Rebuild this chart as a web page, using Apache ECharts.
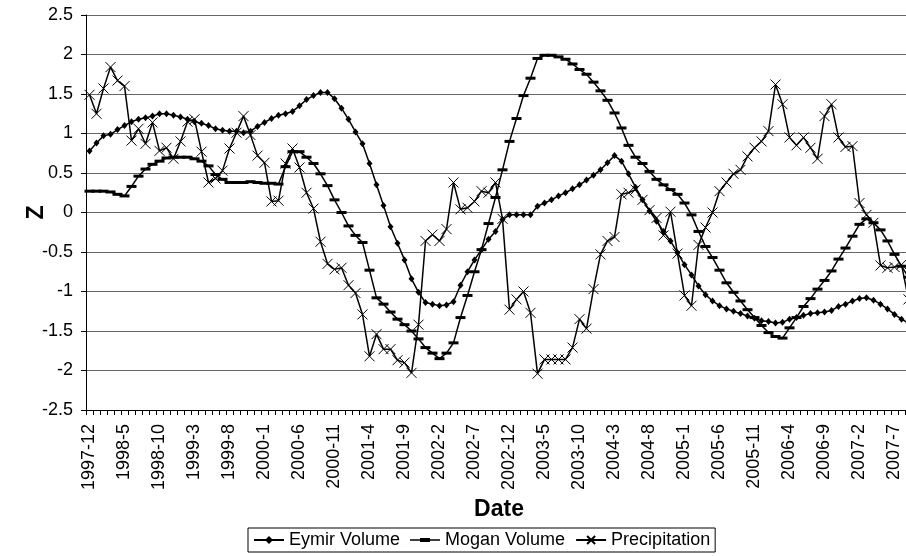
<!DOCTYPE html>
<html>
<head>
<meta charset="utf-8">
<script src="https://cdn.jsdelivr.net/npm/echarts@6/dist/echarts.min.js"></script>
<style>
html,body{margin:0;padding:0;background:#fff;overflow:hidden;width:906px;height:556px;}
#chart{width:912px;height:556px;}
</style>
</head>
<body>
<div id="chart"></div>
<script>
// Categories: monthly dates from 1997-12 to 2007-9
var startYear = 1997, startMonth = 12, monthCount = 118;
var dates = [];
for (var k = 0; k < monthCount; k++) {
  var m = startMonth - 1 + k;
  dates.push((startYear + Math.floor(m / 12)) + '-' + (m % 12 + 1));
}

var yTicks = [-2.5, -2, -1.5, -1, -0.5, 0, 0.5, 1, 1.5, 2, 2.5];

var eymirVolume = [
  0.78, 0.88, 0.97, 0.99, 1.05, 1.10, 1.15, 1.18, 1.20, 1.22,
  1.25, 1.25, 1.23, 1.21, 1.18, 1.15, 1.13, 1.10, 1.06, 1.04,
  1.03, 1.03, 1.01, 1.03, 1.09, 1.14, 1.19, 1.23, 1.25, 1.28,
  1.35, 1.43, 1.48, 1.52, 1.52, 1.44, 1.32, 1.18, 1.02, 0.87,
  0.62, 0.35, 0.09, -0.18, -0.39, -0.60, -0.84, -1.01, -1.14, -1.16,
  -1.18, -1.17, -1.13, -0.92, -0.75, -0.60, -0.47, -0.34, -0.24, -0.09,
  -0.03, -0.03, -0.03, -0.03, 0.08, 0.12, 0.16, 0.21, 0.25, 0.30,
  0.35, 0.41, 0.47, 0.54, 0.63, 0.72, 0.65, 0.49, 0.32, 0.16,
  0.02, -0.11, -0.24, -0.36, -0.51, -0.66, -0.79, -0.93, -1.04, -1.12,
  -1.18, -1.22, -1.25, -1.28, -1.31, -1.34, -1.37, -1.38, -1.40, -1.39,
  -1.35, -1.33, -1.30, -1.28, -1.27, -1.26, -1.24, -1.19, -1.16, -1.12,
  -1.09, -1.08, -1.11, -1.16, -1.22, -1.29, -1.35, -1.40
];

var moganVolume = [
  0.27, 0.27, 0.27, 0.26, 0.23, 0.21, 0.33, 0.46, 0.55, 0.61,
  0.65, 0.69, 0.70, 0.70, 0.70, 0.68, 0.65, 0.59, 0.48, 0.42,
  0.38, 0.38, 0.38, 0.39, 0.38, 0.37, 0.37, 0.36, 0.58, 0.77,
  0.77, 0.70, 0.62, 0.49, 0.34, 0.16, 0.00, -0.17, -0.29, -0.38,
  -0.73, -1.08, -1.16, -1.26, -1.35, -1.42, -1.50, -1.60, -1.71, -1.78,
  -1.85, -1.78, -1.65, -1.33, -1.05, -0.75, -0.47, -0.14, 0.19, 0.54,
  0.90, 1.19, 1.48, 1.70, 1.95, 1.99, 1.99, 1.97, 1.94, 1.88,
  1.81, 1.75, 1.65, 1.54, 1.42, 1.26, 1.07, 0.85, 0.70, 0.62,
  0.52, 0.42, 0.35, 0.29, 0.23, 0.12, -0.03, -0.24, -0.43, -0.57,
  -0.73, -0.89, -1.01, -1.12, -1.23, -1.33, -1.43, -1.52, -1.57, -1.59,
  -1.46, -1.33, -1.19, -1.09, -0.97, -0.86, -0.74, -0.59, -0.45, -0.30,
  -0.15, -0.08, -0.13, -0.22, -0.36, -0.53, -0.68, -0.82
];

var precipitation = [
  1.49, 1.25, 1.57, 1.84, 1.67, 1.60, 0.91, 1.06, 0.87, 1.14,
  0.78, 0.82, 0.68, 0.90, 1.15, 1.18, 0.77, 0.38, 0.43, 0.53,
  0.81, 1.01, 1.22, 0.98, 0.72, 0.63, 0.14, 0.15, 0.62, 0.81,
  0.57, 0.25, 0.05, -0.37, -0.65, -0.72, -0.70, -0.92, -1.02, -1.29,
  -1.82, -1.54, -1.73, -1.73, -1.87, -1.90, -2.03, -1.42, -0.36, -0.28,
  -0.36, -0.21, 0.38, 0.04, 0.06, 0.14, 0.27, 0.25, 0.38, -0.08,
  -1.23, -1.10, -1.00, -1.27, -2.04, -1.86, -1.86, -1.86, -1.86, -1.71,
  -1.35, -1.47, -0.97, -0.53, -0.36, -0.31, 0.23, 0.25, 0.29, 0.16,
  0.03, -0.07, -0.29, 0.01, -0.52, -1.05, -1.18, -0.41, -0.19, 0.00,
  0.27, 0.38, 0.49, 0.54, 0.71, 0.82, 0.90, 1.03, 1.62, 1.37,
  0.95, 0.85, 0.95, 0.82, 0.68, 1.22, 1.37, 0.95, 0.83, 0.84,
  0.12, -0.03, -0.13, -0.67, -0.70, -0.69, -0.66, -1.10
];

var FONT = "'Liberation Sans', Arial, Helvetica, sans-serif";
var chart = echarts.init(document.getElementById('chart'), null, {renderer: 'canvas'});

var lineBase = {
  type: 'line',
  showAllSymbol: true,
  animation: false,
  lineStyle: {color: '#000', width: 1.5},
  emphasis: {disabled: true}
};

chart.setOption({
  animation: false,
  backgroundColor: '#fff',
  textStyle: {fontFamily: FONT},
  grid: {left: 86, top: 15, right: 0, bottom: 146, containLabel: false},
  legend: {
    left: 248, top: 528,
    orient: 'horizontal',
    padding: [3, 5],
    itemGap: 10,
    itemWidth: 30,
    itemHeight: 10,
    borderColor: '#000',
    borderWidth: 1,
    textStyle: {fontFamily: FONT, fontSize: 18, color: '#000'},
    data: [
      {name: 'Eymir Volume'},
      {name: 'Mogan Volume', icon: 'path://M0,4.6h30v1.6h-30z M10,3.4h10v4h-10z'},
      {name: 'Precipitation'}
    ]
  },
  xAxis: {
    type: 'category',
    data: dates,
    boundaryGap: true,
    name: 'Date',
    nameLocation: 'middle',
    nameGap: 88,
    nameTextStyle: {fontFamily: FONT, fontSize: 23, fontWeight: 'bold', color: '#000'},
    axisLine: {show: true, onZero: false, lineStyle: {color: '#000', width: 1}},
    axisTick: {show: true, interval: 0, length: 5, alignWithLabel: false, lineStyle: {color: '#000'}},
    axisLabel: {interval: 4, rotate: 90, fontSize: 18, color: '#000', margin: 14, fontFamily: FONT},
    splitLine: {show: false}
  },
  yAxis: {
    type: 'value',
    min: yTicks[0], max: yTicks[yTicks.length - 1], interval: 0.5,
    name: 'Z',
    nameLocation: 'middle',
    nameGap: 38,
    nameMoveOverlap: false,
    nameRotate: 90,
    nameTextStyle: {fontFamily: FONT, fontSize: 23, fontWeight: 'bold', color: '#000'},
    axisLine: {show: true, onZero: false, lineStyle: {color: '#000', width: 1}},
    axisTick: {show: true, length: 5, lineStyle: {color: '#000'}},
    axisLabel: {fontSize: 18, color: '#000', margin: 13, fontFamily: FONT},
    splitLine: {show: true, lineStyle: {color: '#666', width: 1}}
  },
  series: [
    Object.assign({}, lineBase, {
      name: 'Eymir Volume',
      data: eymirVolume,
      symbol: 'diamond',
      symbolSize: [6, 7],
      itemStyle: {color: '#000'}
    }),
    Object.assign({}, lineBase, {
      name: 'Mogan Volume',
      data: moganVolume,
      symbol: 'rect',
      symbolSize: [10, 3],
      itemStyle: {color: '#000'}
    }),
    Object.assign({}, lineBase, {
      name: 'Precipitation',
      data: precipitation,
      symbol: 'path://M0,0L10,10M10,0L0,10',
      symbolSize: [10, 10],
      itemStyle: {color: '#000', borderColor: '#000', borderWidth: 1}
    })
  ]
});
</script>
</body>
</html>
